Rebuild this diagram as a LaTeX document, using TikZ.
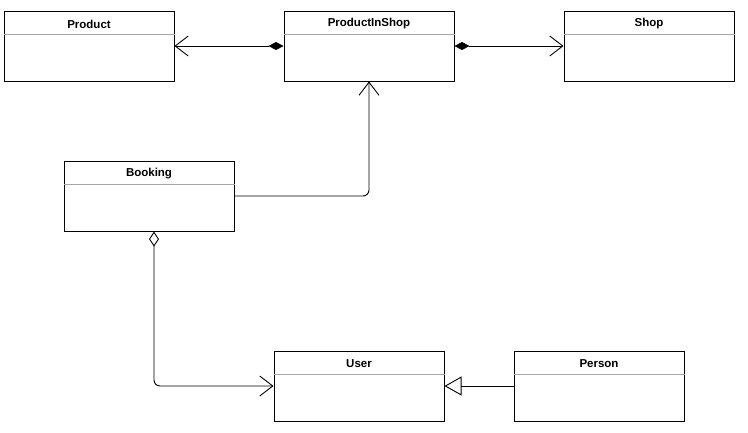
\documentclass[tikz,border=0pt]{standalone}
\usepackage{fontspec}
\setmainfont{Liberation Sans}
\usetikzlibrary{arrows.meta}

\begin{document}
\begin{tikzpicture}[x=1pt,y=-1pt,
  classbox/.style={draw, line width=1pt, minimum width=170pt, minimum height=70pt, inner sep=0pt},
  classname/.style={font=\bfseries\fontsize{11.5}{13}\selectfont, inner sep=0pt},
  link/.style={line width=0.9pt, rounded corners=6pt}]
\useasboundingbox (0,0) rectangle (748,432);
\coordinate (p) at (89,46);
\coordinate (q) at (369,46);
\coordinate (s) at (649,46);
\coordinate (b) at (149,196);
\coordinate (u) at (359,386);
\coordinate (r) at (599,386);
% draws classes
\node[classbox] (product) at (p){};
\node[classbox] (pis) at (q){};
\node[classbox] (shop) at (s){};
\node[classbox] (booking) at (b){};
\node[classbox] (user) at (u){};
\node[classbox] (person) at (r){};
% labels classes
\node[classname] (productname) at ([yshift=-13.5pt]product.north) {Product};
\node[classname] (pisname) at ([yshift=-13.5pt]pis.north) {ProductInShop};
\node[classname] (shopname) at ([yshift=-13.5pt]shop.north) {Shop};
\node[classname] (bookingname) at ([yshift=-13.5pt]booking.north) {Booking};
\node[classname] (username) at ([yshift=-13.5pt]user.north) {User};
\node[classname] (personname) at ([yshift=-13.5pt]person.north) {Person};
% draws dividers
\foreach \c in {product,pis,shop,booking,user,person}
  \draw[gray!70, line width=0.8pt] ([yshift=-24pt]\c.north west) -- ([yshift=-24pt]\c.north east);
% draws links
\draw[link, {Diamond[length=15pt,width=8pt]}-{Straight Barb[length=13pt,width=20pt]}] (pis.west) to (product.east);
\draw[link, {Diamond[length=15pt,width=8pt]}-{Straight Barb[length=13pt,width=20pt]}] (pis.east) to (shop.west);
\draw[link, -{Straight Barb[length=13pt,width=20pt]}] (booking.east) -| (pis.south);
\draw[link, {Diamond[open,length=15pt,width=10pt]}-{Straight Barb[length=13pt,width=20pt]}] ([xshift=5pt]booking.south) |- (user.west);
\draw[link, -{Triangle[open,length=17pt,width=19pt]}] (person.west) to (user.east);
\end{tikzpicture}
\end{document}
